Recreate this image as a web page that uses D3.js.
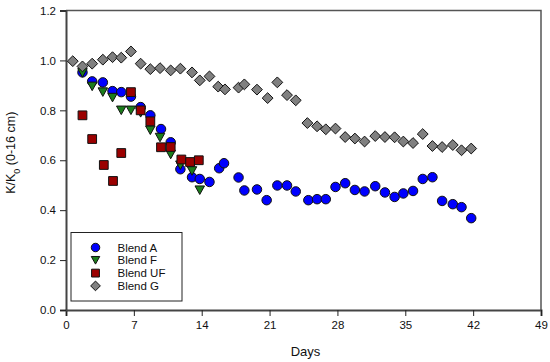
<!DOCTYPE html>
<html>
<head>
<meta charset="utf-8">
<script src="https://cdn.jsdelivr.net/npm/d3@7"></script>
<style>
  body { margin: 0; background: #fff; }
  svg { font-family: Arial, "Liberation Sans", sans-serif; }
</style>
</head>
<body>
<div id="chart"></div>
<script>
// ---- data ----
const xTicks = [0, 7, 14, 21, 28, 35, 42, 49];
const yTicks = [0.0, 0.2, 0.4, 0.6, 0.8, 1.0, 1.2];

const blendADays = [1.7, 2.7, 3.8, 4.8, 5.7, 6.7, 7.7, 8.7, 9.8, 10.8, 11.8, 13.0, 13.8, 14.8, 15.8, 16.3, 17.8, 18.4, 19.7, 20.7, 21.8, 22.8, 23.7, 25.0, 25.9, 26.8, 27.8, 28.8, 29.8, 30.8, 31.9, 32.9, 33.9, 34.8, 35.8, 36.8, 37.8, 38.8, 39.9, 40.8, 41.8];
const blendAVals = [0.952, 0.916, 0.912, 0.877, 0.873, 0.855, 0.813, 0.780, 0.725, 0.672, 0.564, 0.532, 0.525, 0.513, 0.568, 0.588, 0.531, 0.479, 0.483, 0.440, 0.499, 0.499, 0.475, 0.440, 0.444, 0.444, 0.493, 0.508, 0.481, 0.475, 0.496, 0.471, 0.453, 0.467, 0.477, 0.525, 0.532, 0.437, 0.424, 0.412, 0.368];

const blendFDays = [1.7, 2.7, 3.8, 4.8, 5.7, 6.7, 7.7, 8.7, 9.7, 10.8, 11.8, 13.0, 13.8];
const blendFVals = [0.95, 0.896, 0.873, 0.851, 0.800, 0.800, 0.790, 0.720, 0.691, 0.623, 0.580, 0.557, 0.480];

const blendUFDays = [1.7, 2.7, 3.9, 4.85, 5.7, 6.7, 7.7, 8.7, 9.8, 10.8, 11.9, 12.8, 13.7];
const blendUFVals = [0.780, 0.685, 0.581, 0.517, 0.629, 0.873, 0.800, 0.756, 0.652, 0.653, 0.603, 0.593, 0.600];

const blendGDays = [0.7, 1.7, 2.7, 3.8, 4.8, 5.7, 6.7, 7.7, 8.7, 9.7, 10.8, 11.8, 13.0, 13.8, 14.8, 15.7, 16.4, 17.8, 18.4, 19.7, 20.8, 21.8, 22.8, 23.7, 24.9, 25.9, 26.8, 27.8, 28.8, 29.8, 30.8, 31.9, 32.9, 33.9, 34.8, 35.8, 36.8, 37.8, 38.8, 39.9, 40.8, 41.8];
const blendGVals = [0.997, 0.976, 0.987, 1.003, 1.013, 1.011, 1.036, 0.987, 0.965, 0.969, 0.960, 0.967, 0.952, 0.920, 0.936, 0.895, 0.884, 0.891, 0.904, 0.883, 0.849, 0.912, 0.861, 0.840, 0.749, 0.736, 0.724, 0.727, 0.693, 0.687, 0.675, 0.697, 0.693, 0.692, 0.675, 0.669, 0.705, 0.657, 0.653, 0.661, 0.640, 0.647];

const seriesNames = ['Blend A', 'Blend F', 'Blend UF', 'Blend G'];
const seriesColors = ['#0000ff', '#1b7d1b', '#9b0000', '#808080'];
const seriesShapes = [d3.symbolCircle, 'triangleDown', d3.symbolSquare, 'diamond'];
const seriesDays = [blendADays, blendFDays, blendUFDays, blendGDays];
const seriesVals = [blendAVals, blendFVals, blendUFVals, blendGVals];

// ---- layout ----
const width = 550, height = 362;
const margin = { left: 66, right: 9, top: 10.5, bottom: 52 };

const x = d3.scaleLinear().domain([0, 49]).range([margin.left, width - margin.right]);
const y = d3.scaleLinear().domain([0, 1.2]).range([height - margin.bottom, margin.top]);

const svg = d3.select('#chart').append('svg')
    .attr('width', width).attr('height', height);

// frame (top and right)
svg.append('path')
    .attr('d', `M${x(0)},${y(1.2)}H${x(49)}V${y(0)}`)
    .attr('fill', 'none')
    .attr('stroke', '#555')
    .attr('stroke-width', 1.5);

// axes
const xAxis = svg.append('g')
    .attr('transform', `translate(0,${y(0)})`)
    .call(d3.axisBottom(x).tickValues(xTicks).tickSize(6).tickPadding(5).tickFormat(d3.format('d')));
const yAxis = svg.append('g')
    .attr('transform', `translate(${x(0)},0)`)
    .call(d3.axisLeft(y).tickValues(yTicks).tickSize(6).tickPadding(4).tickFormat(d3.format('.1f')));

[xAxis, yAxis].forEach(ax => {
    ax.select('.domain').attr('stroke', '#444').attr('stroke-width', 2);
    ax.selectAll('.tick line').attr('stroke', '#222').attr('stroke-width', 1);
    ax.selectAll('.tick text').attr('font-size', '11.5px').attr('fill', '#111')
        .attr('font-family', 'Arial, "Liberation Sans", sans-serif');
});

// axis titles
svg.append('text')
    .attr('x', x(24.5) + 2).attr('y', 356)
    .attr('text-anchor', 'middle')
    .attr('font-size', '13px')
    .attr('fill', '#111')
    .text('Days');

const yTitle = svg.append('text')
    .attr('transform', `translate(14.5,${y(0.63)}) rotate(-90)`)
    .attr('text-anchor', 'middle')
    .attr('font-size', '12.5px')
    .attr('fill', '#111');
yTitle.append('tspan').text('K/K');
yTitle.append('tspan').attr('baseline-shift', 'sub').attr('font-size', '9px').text('0');
yTitle.append('tspan').text(' (0-16 cm)');

// marker path generator
function markerPath(shape, s) {
    if (shape === 'triangleDown') {
        const h = s * 0.9;
        return `M${-s / 2},${-h / 2}L${s / 2},${-h / 2}L0,${h / 2}Z`;
    }
    if (shape === 'diamond') {
        const r = s * 0.57;
        return `M0,${-r}L${r},0L0,${r}L${-r},0Z`;
    }
    if (shape === d3.symbolCircle) return d3.symbol(shape, Math.PI * (s / 2) * (s / 2))();
    return d3.symbol(shape, s * s * 0.85)();
}
const markerSize = 9.5;

// points
seriesNames.forEach((name, i) => {
    const pts = seriesDays[i].map((d, j) => ({ day: d, val: seriesVals[i][j] }));
    svg.append('g').selectAll('path')
        .data(pts).enter()
        .append('path')
        .attr('transform', d => `translate(${x(d.day)},${y(d.val)})`)
        .attr('d', markerPath(seriesShapes[i], markerSize))
        .attr('fill', seriesColors[i])
        .attr('stroke', '#111')
        .attr('stroke-width', 1);
});

// legend
const legend = svg.append('g');
legend.append('rect')
    .attr('x', 71).attr('y', 232.5)
    .attr('width', 111).attr('height', 68.5)
    .attr('fill', '#fff')
    .attr('stroke', '#222')
    .attr('stroke-width', 1);

seriesNames.forEach((name, i) => {
    const ly = 247.5 + i * 12.8;
    legend.append('path')
        .attr('transform', `translate(95.5,${ly})`)
        .attr('d', markerPath(seriesShapes[i], 8.5))
        .attr('fill', seriesColors[i])
        .attr('stroke', '#111')
        .attr('stroke-width', 1);
    legend.append('text')
        .attr('x', 117.5).attr('y', ly + 4)
        .attr('font-size', '11.5px')
        .attr('fill', '#111')
        .text(name);
});
</script>
</body>
</html>
